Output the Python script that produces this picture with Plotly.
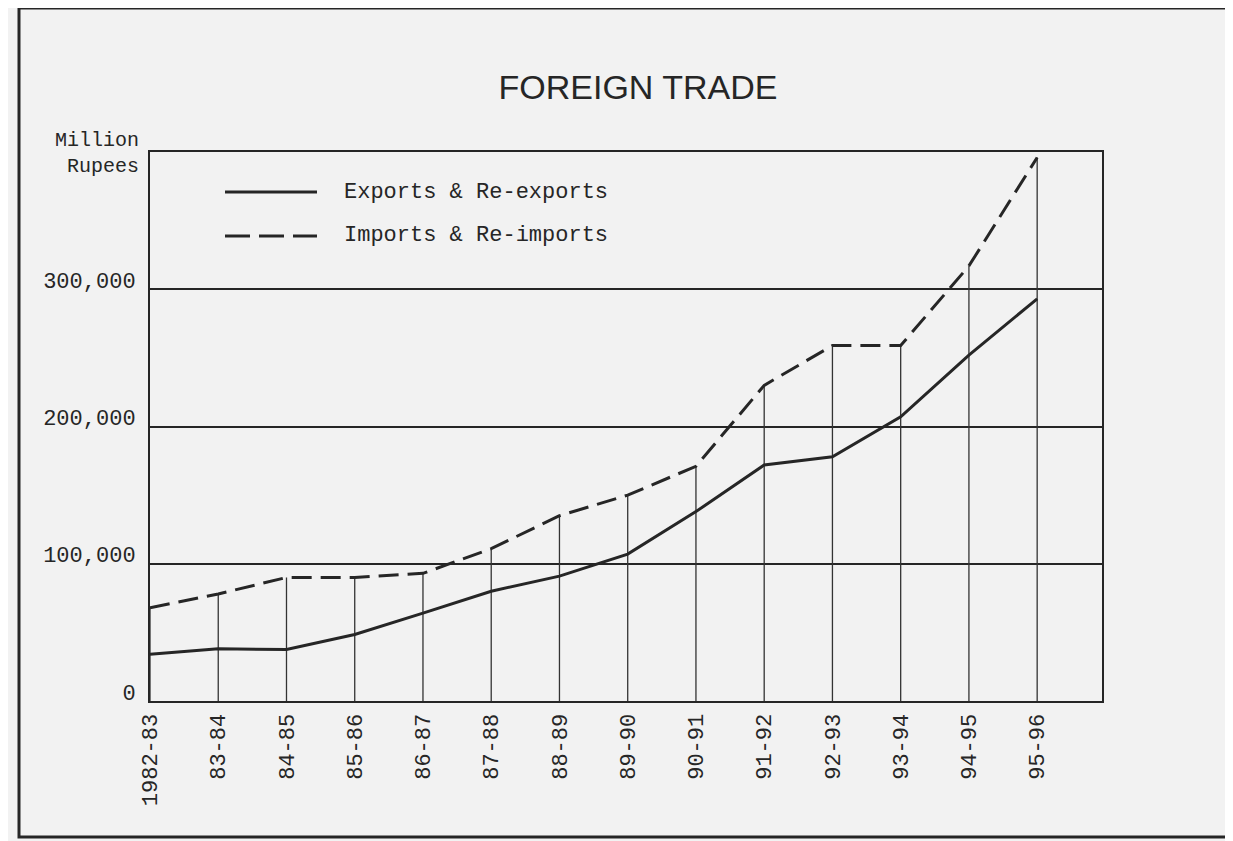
import plotly.graph_objects as go

# ---- data ----
categories = ["1982-83", "83-84", "84-85", "85-86", "86-87", "87-88", "88-89",
              "89-90", "90-91", "91-92", "92-93", "93-94", "94-95", "95-96"]
exports = [34000, 38000, 37500, 48500, 64000, 80000, 91000,
           107000, 138000, 172000, 178000, 207000, 252000, 293000]
imports = [68000, 78000, 90000, 90000, 93000, 111000, 135000,
           150000, 171000, 230000, 259000, 259000, 317000, 396000]
y_ticks = [0, 100000, 200000, 300000]
y_tick_labels = ["0", "100,000", "200,000", "300,000"]

INK = "#262626"
BG = "#f2f2f2"
MONO = "Liberation Mono, Courier New, monospace"

xs = list(range(len(categories)))

# vertical drop lines from the baseline to the imports curve
drop_x, drop_y = [], []
for i, v in zip(xs, imports):
    drop_x += [i, i, None]
    drop_y += [0, v, None]

fig = go.Figure()
fig.add_trace(go.Scatter(x=drop_x, y=drop_y, mode="lines",
                         line=dict(color="#333333", width=1.3),
                         hoverinfo="skip", showlegend=False))
fig.add_trace(go.Scatter(x=xs, y=exports, mode="lines", name="Exports & Re-exports",
                         line=dict(color=INK, width=3), showlegend=False))
fig.add_trace(go.Scatter(x=xs, y=imports, mode="lines", name="Imports & Re-imports",
                         line=dict(color=INK, width=3, dash="20px,9px"), showlegend=False))

# page body has an 8px margin: lay out in target pixels, minus that offset
OFF = 8
W, H = 1233 - OFF, 841 - OFF
PL, PR, PT, PB = 150, 1102, 152, 701          # plot box in target pixels
L, T = PL - OFF, PT - OFF
R, B = W - (PR - OFF), H - (PB - OFF)
pw, ph = PR - PL, PB - PT

def px(x):
    return (x - PL) / pw

def py(y):
    return (PB - y) / ph

fig.update_layout(
    width=W, height=H,
    margin=dict(l=L, r=R, t=T, b=B, autoexpand=False),
    paper_bgcolor=BG, plot_bgcolor=BG,
    title=dict(text="FOREIGN TRADE", x=px(638), xref="paper", xanchor="center",
               y=1 - (87 - OFF) / H, yref="container", yanchor="middle",
               font=dict(family="Liberation Sans, Arial, sans-serif", size=34, color=INK)),
    xaxis=dict(range=[0, 13.95], tickmode="array", tickvals=xs, ticktext=categories,
               tickangle=-90, tickfont=dict(family=MONO, size=22, color=INK),
               showgrid=False, zeroline=False, showline=True, linecolor=INK,
               linewidth=2, mirror=True, ticks="", ticklabelstandoff=2),
    yaxis=dict(range=[0, 400000], tickmode="array", tickvals=y_ticks,
               ticktext=y_tick_labels, tickfont=dict(family=MONO, size=22, color=INK),
               showgrid=True, gridcolor=INK, gridwidth=1.6, zeroline=False,
               showline=True, linecolor=INK, linewidth=2, mirror=True, ticks="",
               ticklabelstandoff=8, ticklabelshift=-9),
)

# outer page border
fig.add_shape(type="rect", xref="paper", yref="paper",
              x0=px(19), x1=px(1228), y0=py(837), y1=py(8),
              line=dict(color=INK, width=3), fillcolor="rgba(0,0,0,0)", layer="below")

# axis unit label
fig.add_annotation(text="Million", xref="paper", yref="paper", x=px(141), y=py(141),
                   xanchor="right", yanchor="middle", showarrow=False,
                   font=dict(family=MONO, size=20, color=INK))
fig.add_annotation(text="Rupees", xref="paper", yref="paper", x=px(141), y=py(166),
                   xanchor="right", yanchor="middle", showarrow=False,
                   font=dict(family=MONO, size=20, color=INK))

# custom legend
legend_rows = [("Exports & Re-exports", "solid", 192),
               ("Imports & Re-imports", "25px,9px", 236)]
for label, dash, yy in legend_rows:
    fig.add_shape(type="line", xref="paper", yref="paper",
                  x0=px(225), x1=px(317), y0=py(yy), y1=py(yy),
                  line=dict(color=INK, width=3, dash=dash))
    fig.add_annotation(text=label, xref="paper", yref="paper", x=px(342), y=py(yy),
                       xanchor="left", yanchor="middle", showarrow=False,
                       font=dict(family=MONO, size=22, color=INK))

fig.write_html("out.html")
